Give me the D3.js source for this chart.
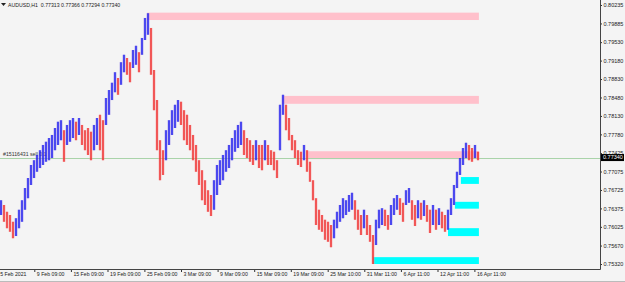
<!DOCTYPE html>
<html>
<head>
<meta charset="utf-8">
<script src="https://cdn.jsdelivr.net/npm/d3@7"></script>
<style>
  html, body { margin: 0; padding: 0; background: #f4f4f4; }
  svg { display: block; font-family: "Liberation Sans", Arial, sans-serif; }
  .axis text { fill: #222; }
</style>
</head>
<body>
<div class="chart"></div>
<script>
// AUDUSD H1, one entry per column of bars (high / low)
const highs = [
  0.7653, 0.7644, 0.7631, 0.7625, 0.7612, 0.7619, 0.7635, 0.7653, 0.7676, 0.7695,
  0.7720, 0.7729, 0.7739, 0.7748, 0.7758, 0.7764, 0.7771, 0.7777, 0.7790, 0.7802,
  0.7805, 0.7786, 0.7796, 0.7805, 0.7809, 0.7802, 0.7809, 0.7796, 0.7786, 0.7790,
  0.7783, 0.7796, 0.7809, 0.7815, 0.7805, 0.7847, 0.7862, 0.7876, 0.7896, 0.7885,
  0.7915, 0.7929, 0.7923, 0.7915, 0.7938, 0.7946, 0.7934, 0.7961, 0.7999, 0.8008,
  0.7980, 0.7900, 0.7843, 0.7767, 0.7748, 0.7786, 0.7805, 0.7824, 0.7834, 0.7843,
  0.7840, 0.7824, 0.7815, 0.7796, 0.7777, 0.7758, 0.7729, 0.7710, 0.7691, 0.7672,
  0.7663, 0.7691, 0.7720, 0.7729, 0.7739, 0.7748, 0.7758, 0.7771, 0.7786, 0.7796,
  0.7802, 0.7786, 0.7771, 0.7767, 0.7758, 0.7767, 0.7758, 0.7758, 0.7767, 0.7758,
  0.7748, 0.7745, 0.7729, 0.7834, 0.7853, 0.7834, 0.7809, 0.7777, 0.7767, 0.7748,
  0.7745, 0.7758, 0.7748, 0.7726, 0.7691, 0.7657, 0.7635, 0.7625, 0.7616, 0.7612,
  0.7606, 0.7616, 0.7631, 0.7644, 0.7657, 0.7653, 0.7663, 0.7667, 0.7653, 0.7635,
  0.7625, 0.7635, 0.7625, 0.7606, 0.7587, 0.7616, 0.7635, 0.7638, 0.7635, 0.7625,
  0.7644, 0.7657, 0.7663, 0.7657, 0.7648, 0.7672, 0.7676, 0.7653, 0.7644, 0.7653,
  0.7648, 0.7653, 0.7644, 0.7635, 0.7644, 0.7635, 0.7638, 0.7631, 0.7625, 0.7635,
  0.7657, 0.7682, 0.7707, 0.7733, 0.7752, 0.7762, 0.7758, 0.7752, 0.7758, 0.7745
];
const lows = [
  0.7625, 0.7612, 0.7600, 0.7593, 0.7581, 0.7585, 0.7600, 0.7612, 0.7635, 0.7657,
  0.7682, 0.7695, 0.7707, 0.7714, 0.7720, 0.7726, 0.7729, 0.7733, 0.7748, 0.7758,
  0.7767, 0.7726, 0.7758, 0.7764, 0.7771, 0.7767, 0.7777, 0.7758, 0.7748, 0.7739,
  0.7729, 0.7748, 0.7758, 0.7748, 0.7729, 0.7796, 0.7815, 0.7843, 0.7858, 0.7853,
  0.7872, 0.7896, 0.7891, 0.7877, 0.7904, 0.7910, 0.7896, 0.7929, 0.7957, 0.7967,
  0.7891, 0.7824, 0.7748, 0.7691, 0.7701, 0.7729, 0.7758, 0.7777, 0.7790, 0.7802,
  0.7796, 0.7767, 0.7758, 0.7748, 0.7729, 0.7707, 0.7682, 0.7653, 0.7644, 0.7631,
  0.7623, 0.7635, 0.7663, 0.7682, 0.7691, 0.7707, 0.7714, 0.7729, 0.7745, 0.7752,
  0.7758, 0.7739, 0.7733, 0.7726, 0.7720, 0.7729, 0.7714, 0.7710, 0.7729, 0.7720,
  0.7720, 0.7710, 0.7695, 0.7748, 0.7815, 0.7786, 0.7767, 0.7748, 0.7733, 0.7720,
  0.7716, 0.7729, 0.7707, 0.7688, 0.7653, 0.7606, 0.7597, 0.7593, 0.7578, 0.7574,
  0.7564, 0.7581, 0.7600, 0.7612, 0.7619, 0.7625, 0.7631, 0.7635, 0.7616, 0.7597,
  0.7587, 0.7600, 0.7587, 0.7574, 0.7532, 0.7568, 0.7600, 0.7606, 0.7604, 0.7597,
  0.7606, 0.7625, 0.7635, 0.7625, 0.7612, 0.7644, 0.7648, 0.7616, 0.7604, 0.7619,
  0.7616, 0.7623, 0.7612, 0.7591, 0.7606, 0.7597, 0.7606, 0.7600, 0.7593, 0.7597,
  0.7625, 0.7644, 0.7676, 0.7701, 0.7720, 0.7733, 0.7729, 0.7726, 0.7733, 0.7729
];

// supply (pink) / demand (cyan) zones
const zoneTop    = [0.8009, 0.7851, 0.7746, 0.7697, 0.7650, 0.7600, 0.7545];
const zoneBottom = [0.7995, 0.7836, 0.7731, 0.7684, 0.7637, 0.7585, 0.7532];
const zoneStart  = [48.7, 93.7, 102, 153.3, 151.3, 149, 124];
const zoneEnd    = [159.3, 159.3, 159.3, 159.3, 159.3, 159.3, 159.3];
const zoneColor  = ["#ffc0cb", "#ffc0cb", "#ffc0cb", "#00ffff", "#00ffff", "#00ffff", "#00ffff"];

// right price scale
const priceTicks = [0.80235, 0.79885, 0.79530, 0.79180, 0.78830, 0.78480, 0.78130, 0.77780,
                    0.77425, 0.77075, 0.76725, 0.76375, 0.76025, 0.75670, 0.75320];
// time scale (positions in bar columns)
const timeTickPos = [-1.1, 11.1, 23.3, 35.5, 47.8, 60.0, 72.2, 84.4, 96.6, 108.9, 121.1, 133.3, 145.5, 157.8];
const timeLabels = ["5 Feb 2021", "9 Feb 09:00", "15 Feb 09:00", "19 Feb 09:00", "25 Feb 09:00",
                    "3 Mar 09:00", "9 Mar 09:00", "15 Mar 09:00", "19 Mar 09:00", "25 Mar 10:00",
                    "31 Mar 11:00", "6 Apr 11:00", "12 Apr 11:00", "16 Apr 11:00"];

const bid = 0.77340;
const title = "AUDUSD,H1  0.77313 0.77366 0.77294 0.77340";
const orderLabel = "#15116431 sell 0.1";

const W = 625, H = 282;
const plotRight = 600, plotBottom = 269;

const svg = d3.select(".chart").append("svg").attr("width", W).attr("height", H);

const xScale = d3.scaleLinear().domain([0, highs.length - 1]).range([1, 478]);
const yScale = d3.scaleLinear().domain([0.75320, 0.80235]).range([264, 5]);

// zones
svg.append("g").selectAll("rect")
  .data(zoneTop)
  .join("rect")
  .attr("x", (d, i) => xScale(zoneStart[i]))
  .attr("width", (d, i) => xScale(zoneEnd[i]) - xScale(zoneStart[i]))
  .attr("y", d => yScale(d))
  .attr("height", (d, i) => yScale(zoneBottom[i]) - yScale(d))
  .attr("fill", (d, i) => zoneColor[i]);

// bid / order line
svg.append("line")
  .attr("x1", 0).attr("x2", plotRight)
  .attr("y1", Math.round(yScale(bid)) + 0.5).attr("y2", Math.round(yScale(bid)) + 0.5)
  .attr("stroke", "#a9d3a9").attr("stroke-width", 1);

svg.append("text")
  .attr("x", 3).attr("y", yScale(bid) - 1.5)
  .attr("font-size", 5.2).attr("fill", "#333")
  .text(orderLabel);

// bars: soft halo first, then the thin bar itself
const mids = highs.map((h, i) => (h + lows[i]) / 2);
const isUp = i => i === 0 || mids[i] >= mids[i - 1];

svg.append("g").selectAll("rect")
  .data(highs)
  .join("rect")
  .attr("x", (d, i) => xScale(i) - 1.5)
  .attr("width", 3)
  .attr("y", d => yScale(d))
  .attr("height", (d, i) => yScale(lows[i]) - yScale(d))
  .attr("fill", (d, i) => isUp(i) ? "#8a7ee8" : "#f59a9a")
  .attr("opacity", 0.55);

svg.append("g").selectAll("line")
  .data(highs)
  .join("line")
  .attr("x1", (d, i) => xScale(i))
  .attr("x2", (d, i) => xScale(i))
  .attr("y1", d => yScale(d))
  .attr("y2", (d, i) => yScale(lows[i]))
  .attr("stroke", (d, i) => isUp(i) ? "#1010f0" : "#ee1c1c")
  .attr("stroke-width", 1.3);

// price axis
const yAxis = svg.append("g")
  .attr("class", "axis")
  .attr("transform", `translate(${plotRight},0)`)
  .call(d3.axisRight(yScale).tickValues(priceTicks).tickSize(2).tickPadding(1.5)
    .tickFormat(d3.format(".5f")));
yAxis.select(".domain").remove();
yAxis.selectAll("line").attr("stroke", "#333");
yAxis.selectAll("text").attr("font-size", 5.5);

// time axis
const xAxis = svg.append("g")
  .attr("class", "axis")
  .attr("transform", `translate(0,${plotBottom})`)
  .call(d3.axisBottom(xScale).tickValues(timeTickPos).tickSize(3)
    .tickFormat((d, i) => timeLabels[i]));
xAxis.select(".domain").remove();
xAxis.selectAll("line").attr("stroke", "#333");
xAxis.selectAll("text")
  .attr("font-size", 5.2)
  .attr("text-anchor", "start")
  .attr("dx", 2)
  .attr("y", 3)
  .attr("dy", "0.71em");

// frame
svg.append("line").attr("x1", plotRight + 0.5).attr("x2", plotRight + 0.5)
  .attr("y1", 0).attr("y2", plotBottom + 0.5).attr("stroke", "#444");
svg.append("line").attr("x1", 0).attr("x2", plotRight + 0.5)
  .attr("y1", plotBottom + 0.5).attr("y2", plotBottom + 0.5).attr("stroke", "#444");
svg.append("line").attr("x1", 0).attr("x2", W)
  .attr("y1", H - 0.5).attr("y2", H - 0.5).attr("stroke", "#bbb");

// current price label
const by = yScale(bid);
svg.append("rect")
  .attr("x", plotRight + 1).attr("y", by - 3.5)
  .attr("width", 23).attr("height", 7)
  .attr("fill", "#000");
svg.append("text")
  .attr("x", plotRight + 3).attr("y", by)
  .attr("dy", "0.35em")
  .attr("font-size", 5.5).attr("fill", "#fff")
  .text(d3.format(".5f")(bid));

// header
svg.append("path")
  .attr("d", "M1,3 L6,3 L3.5,6 Z")
  .attr("fill", "#222");
svg.append("text")
  .attr("x", 8).attr("y", 5)
  .attr("dy", "0.35em")
  .attr("font-size", 5.2).attr("fill", "#222")
  .attr("xml:space", "preserve")
  .text(title);
</script>
</body>
</html>
